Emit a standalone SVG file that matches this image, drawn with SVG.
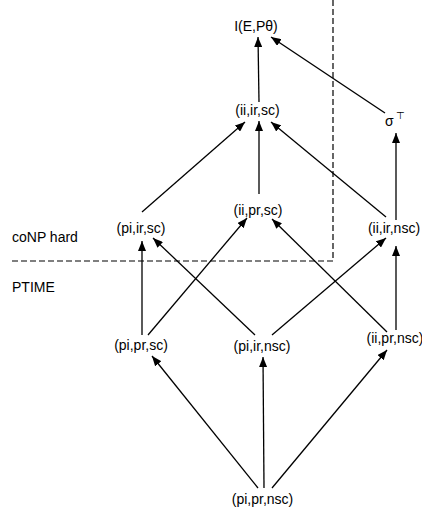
<svg xmlns="http://www.w3.org/2000/svg" width="422" height="512" viewBox="0 0 422 512">
<defs>
<style>
text{font-family:"Liberation Sans",Arial,sans-serif;font-size:14px;fill:#000}
.n{text-anchor:middle}
.e{stroke:#000;stroke-width:1.3;fill:none;marker-end:url(#ah)}
.d{stroke:#000;stroke-width:1.2;fill:none;stroke-dasharray:6,3}
</style>
<marker id="ah" viewBox="0 0 10 8" refX="10" refY="4" markerWidth="10" markerHeight="8" markerUnits="userSpaceOnUse" orient="auto">
<path d="M0,0 L10,4 L0,8 Z" fill="#000"/>
</marker>
</defs>
<rect width="422" height="512" fill="#fff"/>
<g id="regions">
<path class="d" d="M333,0 V261 H12"/>
<text x="12" y="241.5">coNP hard</text>
<text x="12" y="291.5">PTIME</text>
</g>
<g id="connectors">
<line class="e" x1="259" y1="102" x2="258" y2="37"/>
<line class="e" x1="385" y1="113" x2="271" y2="37"/>
<line class="e" x1="142" y1="212" x2="245" y2="122"/>
<line class="e" x1="259" y1="194" x2="259" y2="121"/>
<line class="e" x1="386" y1="217" x2="271" y2="122"/>
<line class="e" x1="396" y1="220" x2="396" y2="133"/>
<line class="e" x1="142" y1="335" x2="142" y2="241"/>
<line class="e" x1="148" y1="335" x2="247" y2="218"/>
<line class="e" x1="255" y1="335" x2="153" y2="238"/>
<line class="e" x1="272" y1="335" x2="386" y2="238"/>
<line class="e" x1="387" y1="332" x2="272" y2="219"/>
<line class="e" x1="396" y1="330" x2="396" y2="246"/>
<line class="e" x1="258" y1="488" x2="152" y2="356"/>
<line class="e" x1="264" y1="488" x2="263" y2="357"/>
<line class="e" x1="272" y1="488" x2="387" y2="350"/>
</g>
<g id="n-top"><text class="n" x="256" y="31">I(E,Pθ)</text></g>
<g id="n-ii-ir-sc"><text class="n" x="257.5" y="115">(ii,ir,sc)</text></g>
<g id="n-sigma"><text x="385" y="126">σ<tspan font-size="10" dx="2" dy="-7">⊤</tspan></text></g>
<g id="n-pi-ir-sc"><text class="n" x="141" y="233">(pi,ir,sc)</text></g>
<g id="n-ii-pr-sc"><text class="n" x="258" y="215">(ii,pr,sc)</text></g>
<g id="n-ii-ir-nsc"><text class="n" x="394" y="233">(ii,ir,nsc)</text></g>
<g id="n-pi-pr-sc"><text class="n" x="141" y="350">(pi,pr,sc)</text></g>
<g id="n-pi-ir-nsc"><text class="n" x="262" y="351">(pi,ir,nsc)</text></g>
<g id="n-ii-pr-nsc"><text class="n" x="395" y="343">(ii,pr,nsc)</text></g>
<g id="n-pi-pr-nsc"><text class="n" x="262.5" y="504">(pi,pr,nsc)</text></g>
</svg>
